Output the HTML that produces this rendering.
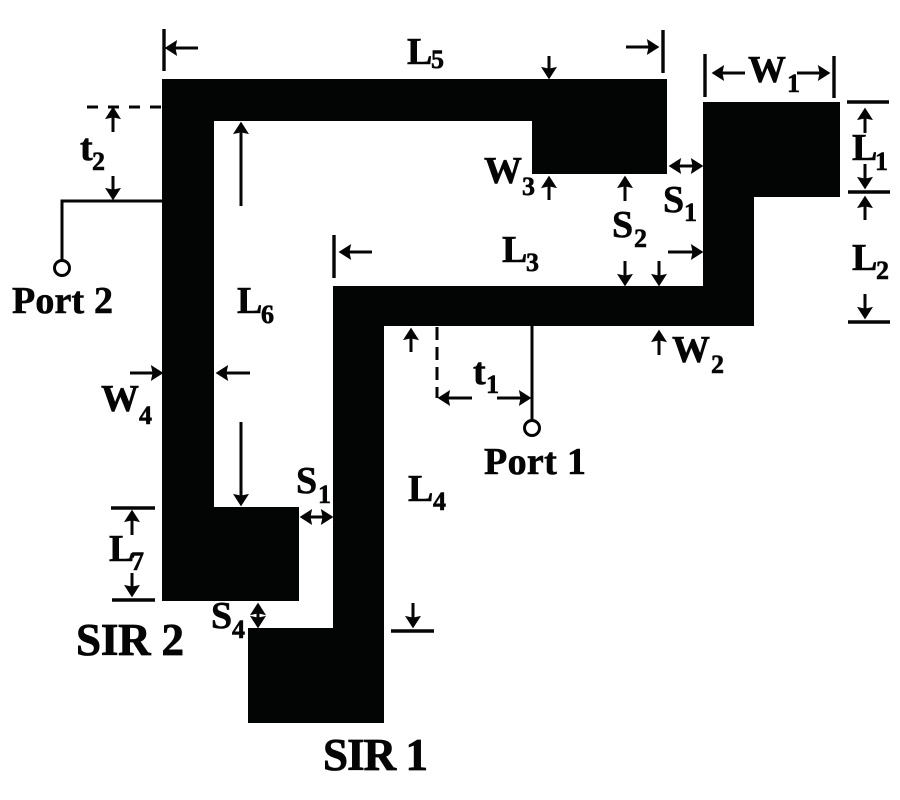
<!DOCTYPE html>
<html><head><meta charset="utf-8"><style>
html,body{margin:0;padding:0;background:#fff}
svg{display:block}
text{font-family:"Liberation Serif",serif;font-weight:bold;fill:#050505;stroke:#050505;stroke-width:0.6}
.m{font-size:38px}
.s{font-size:26px}
.b{font-size:45px;stroke-width:0.8}
line,polyline{stroke:#050505;stroke-width:3;fill:none}
.t{stroke-width:3.4}
</style></head><body>
<svg width="900" height="800" viewBox="0 0 900 800" xmlns="http://www.w3.org/2000/svg">
<defs>
<marker id="a" markerUnits="userSpaceOnUse" markerWidth="14" markerHeight="16" refX="8" refY="7" orient="auto-start-reverse" viewBox="0 0 12 14">
<path d="M0,0 L11,7 L0,14 L1.5,7 Z" fill="#050505"/>
</marker>
</defs>
<!-- resonators -->
<path d="M162,79H667V174H532V121H214V507H299V601H162Z" fill="#030505"/>
<path d="M333,286H703V102H840V197H754V326H384V723H248V628H333Z" fill="#030505"/>

<!-- ticks and bars -->
<line class="t" x1="164" y1="29" x2="164" y2="71"/>
<line class="t" x1="663" y1="30" x2="663" y2="73"/>
<line class="t" x1="705" y1="54" x2="705" y2="97"/>
<line class="t" x1="834" y1="56" x2="834" y2="98"/>
<line class="t" x1="847" y1="102" x2="889" y2="102"/>
<line class="t" x1="848" y1="192" x2="890" y2="192"/>
<line class="t" x1="848" y1="322" x2="890" y2="322"/>
<line class="t" x1="334" y1="235" x2="334" y2="278"/>
<line class="t" x1="111" y1="508" x2="155" y2="508"/>
<line class="t" x1="112" y1="600" x2="155" y2="600"/>
<line class="t" x1="391" y1="631" x2="434" y2="631"/>

<!-- ports -->
<polyline points="162,201 62,201 62,260"/>
<circle cx="62" cy="268" r="7.5" fill="#fff" stroke="#050505" stroke-width="3"/>
<line x1="532" y1="326" x2="532" y2="421"/>
<circle cx="532" cy="428" r="7.5" fill="#fff" stroke="#050505" stroke-width="3"/>

<!-- dashed -->
<line x1="87" y1="107" x2="162" y2="107" stroke-dasharray="11,10"/>
<line x1="437" y1="327" x2="437" y2="398" stroke-dasharray="13,7"/>

<!-- arrows -->
<g>
<line x1="198" y1="48" x2="168" y2="48" marker-end="url(#a)"/>
<line x1="626" y1="47" x2="656" y2="47" marker-end="url(#a)"/>
<line x1="745" y1="73" x2="715" y2="73" marker-end="url(#a)"/>
<line x1="797" y1="73" x2="827" y2="73" marker-end="url(#a)"/>
<line x1="549" y1="56" x2="549" y2="76" marker-end="url(#a)"/>
<line x1="865" y1="133" x2="865" y2="111" marker-end="url(#a)"/>
<line x1="865" y1="164" x2="865" y2="186" marker-end="url(#a)"/>
<line x1="865" y1="220" x2="865" y2="199" marker-end="url(#a)"/>
<line x1="865" y1="294" x2="865" y2="316" marker-end="url(#a)"/>
<line x1="668" y1="252" x2="700" y2="252" marker-end="url(#a)"/>
<line x1="625" y1="201" x2="625" y2="179" marker-end="url(#a)"/>
<line x1="625" y1="261" x2="625" y2="283" marker-end="url(#a)"/>
<line x1="659" y1="261" x2="659" y2="283" marker-end="url(#a)"/>
<line x1="549" y1="200" x2="549" y2="179" marker-end="url(#a)"/>
<line x1="659" y1="355" x2="659" y2="333" marker-end="url(#a)"/>
<line x1="113" y1="132" x2="113" y2="110" marker-end="url(#a)"/>
<line x1="113" y1="176" x2="113" y2="197" marker-end="url(#a)"/>
<line x1="241" y1="206" x2="241" y2="125" marker-end="url(#a)"/>
<line x1="241" y1="422" x2="241" y2="503" marker-end="url(#a)"/>
<line x1="130" y1="373" x2="160" y2="373" marker-end="url(#a)"/>
<line x1="250" y1="373" x2="219" y2="373" marker-end="url(#a)"/>
<line x1="372" y1="252" x2="342" y2="252" marker-end="url(#a)"/>
<line x1="411" y1="352" x2="411" y2="331" marker-end="url(#a)"/>
<line x1="472" y1="398" x2="441" y2="398" marker-end="url(#a)"/>
<line x1="497" y1="398" x2="528" y2="398" marker-end="url(#a)"/>
<line x1="132" y1="535" x2="132" y2="513" marker-end="url(#a)"/>
<line x1="132" y1="573" x2="132" y2="594" marker-end="url(#a)"/>
<line x1="413" y1="603" x2="413" y2="625" marker-end="url(#a)"/>
<line x1="672" y1="166" x2="700" y2="166" marker-start="url(#a)" marker-end="url(#a)"/>
<line x1="303" y1="517" x2="330" y2="517" marker-start="url(#a)" marker-end="url(#a)"/>
<line x1="258" y1="606" x2="258" y2="625" marker-start="url(#a)" marker-end="url(#a)"/>
</g>

<!-- labels -->
<text class="m" x="407" y="64">L</text><text class="s" x="431" y="68">5</text>
<text class="m" x="748" y="82">W</text><text class="s" x="787" y="92">1</text>
<text class="m" x="852" y="160">L</text><text class="s" x="875" y="170">1</text>
<text class="m" x="852" y="270">L</text><text class="s" x="876" y="279">2</text>
<text class="m" x="663" y="212">S</text><text class="s" x="684" y="221">1</text>
<text class="m" x="612" y="237">S</text><text class="s" x="634" y="247">2</text>
<text class="m" x="502" y="262">L</text><text class="s" x="526" y="271">3</text>
<text class="m" x="484" y="183">W</text><text class="s" x="522" y="195">3</text>
<text class="m" x="672" y="362">W</text><text class="s" x="711" y="373">2</text>
<text class="m" x="80" y="160">t</text><text class="s" x="92" y="170">2</text>
<text class="m" x="237" y="313">L</text><text class="s" x="261" y="323">6</text>
<text class="m" x="101" y="411">W</text><text class="s" x="139" y="424">4</text>
<text class="m" x="296" y="493">S</text><text class="s" x="318" y="503">1</text>
<text class="m" x="408" y="501">L</text><text class="s" x="433" y="510">4</text>
<text class="m" x="109" y="561">L</text><text class="s" x="131" y="570">7</text>
<text class="m" x="211" y="628">S</text><text class="s" x="232" y="638">4</text>
<text class="m" x="473" y="384">t</text><text class="s" x="486" y="393">1</text>
<text class="m" x="12" y="313" textLength="101">Port 2</text>
<text class="m" x="484" y="474" textLength="102">Port 1</text>
<text class="b" x="76" y="655" textLength="108">SIR 2</text>
<text class="b" x="323" y="770" textLength="105">SIR 1</text>
</svg>
</body></html>
